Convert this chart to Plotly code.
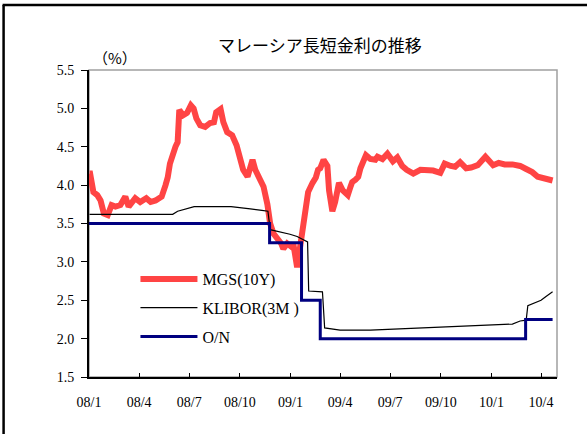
import plotly.graph_objects as go

# Malaysian 10Y government bond yield (MGS), 3M KLIBOR and overnight policy rate, %
mgs_dates = [
    "2008-01-02", "2008-01-03", "2008-01-09", "2008-01-16", "2008-01-22", "2008-01-28",
    "2008-02-04", "2008-02-11", "2008-02-18", "2008-02-27", "2008-03-07", "2008-03-13",
    "2008-03-25", "2008-04-03", "2008-04-14", "2008-04-22", "2008-05-01", "2008-05-12",
    "2008-05-19", "2008-05-23", "2008-05-27", "2008-06-02", "2008-06-06", "2008-06-10",
    "2008-06-13", "2008-06-20", "2008-06-27", "2008-07-04", "2008-07-09", "2008-07-14",
    "2008-07-21", "2008-07-30", "2008-08-08", "2008-08-15", "2008-08-19", "2008-08-27",
    "2008-09-01", "2008-09-08", "2008-09-17", "2008-09-25", "2008-09-30", "2008-10-07",
    "2008-10-15", "2008-10-24", "2008-10-29", "2008-11-07", "2008-11-13", "2008-11-20",
    "2008-11-25", "2008-12-01", "2008-12-08", "2008-12-15", "2008-12-19", "2008-12-26",
    "2009-01-02", "2009-01-06", "2009-01-13", "2009-01-19", "2009-01-26", "2009-01-28",
    "2009-02-02", "2009-02-10", "2009-02-16", "2009-02-20", "2009-02-24", "2009-03-02",
    "2009-03-09", "2009-03-12", "2009-03-18", "2009-03-23", "2009-03-30", "2009-04-06",
    "2009-04-15", "2009-04-20", "2009-04-23", "2009-04-29", "2009-05-04", "2009-05-08",
    "2009-05-13", "2009-05-18", "2009-05-26", "2009-06-04", "2009-06-08", "2009-06-17",
    "2009-06-26", "2009-07-06", "2009-07-14", "2009-07-23", "2009-07-31", "2009-08-12",
    "2009-08-25", "2009-09-07", "2009-09-17", "2009-09-30", "2009-10-08", "2009-10-19",
    "2009-10-27", "2009-11-05", "2009-11-16", "2009-11-25", "2009-12-07", "2009-12-21",
    "2009-12-30", "2010-01-04", "2010-01-14", "2010-01-25", "2010-02-08", "2010-02-22",
    "2010-03-05", "2010-03-16", "2010-03-26", "2010-04-05", "2010-04-15", "2010-04-22",
]
mgs_values = [
    4.15, 4.15, 3.91, 3.87, 3.80, 3.63,
    3.61, 3.74, 3.72, 3.74, 3.85, 3.72,
    3.83, 3.78, 3.83, 3.78, 3.80, 3.85,
    4.00, 4.10, 4.28, 4.45, 4.50, 4.56,
    4.98, 4.91, 4.94, 5.04, 5.00, 4.87,
    4.78, 4.76, 4.81, 4.82, 4.95, 4.99,
    4.82, 4.69, 4.65, 4.52, 4.35, 4.20,
    4.11, 4.33, 4.20, 4.09, 3.98, 3.75,
    3.50, 3.37, 3.31, 3.24, 3.17, 3.24,
    3.20, 3.24, 2.93, 3.24, 3.59, 3.75,
    3.91, 4.03, 4.10, 4.20, 4.22, 4.33,
    4.25, 3.93, 3.66, 3.78, 4.03, 3.93,
    3.87, 3.98, 4.04, 4.07, 4.11, 4.22,
    4.29, 4.39, 4.34, 4.33, 4.37, 4.34,
    4.41, 4.31, 4.36, 4.25, 4.20, 4.15,
    4.20, 4.19, 4.19, 4.16, 4.28, 4.25,
    4.24, 4.30, 4.22, 4.23, 4.26, 4.37,
    4.30, 4.26, 4.29, 4.27, 4.27, 4.25,
    4.21, 4.17, 4.11, 4.09, 4.07, 4.06,
]

klibor_dates = [
    "2008-01-02", "2008-06-01", "2008-06-10", "2008-06-20", "2008-07-01", "2008-07-10",
    "2008-09-15", "2008-10-01", "2008-10-20", "2008-11-10", "2008-11-21", "2008-11-25",
    "2008-12-15", "2008-12-31", "2009-01-13", "2009-01-20", "2009-02-01", "2009-02-03",
    "2009-02-28", "2009-03-04", "2009-04-01", "2009-05-26", "2009-08-12", "2009-11-05",
    "2010-02-08", "2010-02-22", "2010-03-05", "2010-03-08", "2010-03-20", "2010-04-01",
    "2010-04-10", "2010-04-22",
]
klibor_values = [
    3.62, 3.62, 3.66, 3.68, 3.70, 3.72,
    3.72, 3.71, 3.69, 3.67, 3.66, 3.42,
    3.39, 3.36, 3.33, 3.30, 3.26, 2.62,
    2.61, 2.14, 2.11, 2.11, 2.135, 2.16,
    2.19, 2.23, 2.24, 2.43, 2.46, 2.50,
    2.55, 2.61,
]

# overnight policy rate: value in force from each date onward
on_dates = ["2008-01-01", "2008-11-24", "2009-01-21", "2009-02-24", "2010-03-04", "2010-04-22"]
on_values = [3.50, 3.25, 2.50, 2.00, 2.25, 2.25]

tick_dates = ["2008-01-01", "2008-04-01", "2008-07-01", "2008-10-01", "2009-01-01",
              "2009-04-01", "2009-07-01", "2009-10-01", "2010-01-01", "2010-04-01"]
tick_labels = ["08/1", "08/4", "08/7", "08/10", "09/1", "09/4", "09/7", "09/10", "10/1", "10/4"]

serif = "Liberation Serif, Times New Roman, serif"
cjk = "Noto Sans CJK JP, sans-serif"

fig = go.Figure()
fig.add_trace(go.Scatter(x=mgs_dates, y=mgs_values, name="MGS(10Y)", mode="lines",
                         line=dict(color="#FF4444", width=6), legendgroup="a"))
fig.add_trace(go.Scatter(x=klibor_dates, y=klibor_values, name="KLIBOR(3M )", mode="lines",
                         line=dict(color="black", width=1.2), legendgroup="b"))
fig.add_trace(go.Scatter(x=on_dates, y=on_values, name="O/N", mode="lines",
                         line=dict(color="#000080", width=3, shape="hv"), legendgroup="c"))

W, H = 587, 434
L, R, T, B = 88.5, 557, 70, 377
pw, ph = R - L, B - T


def px_x(v):
    return (v - L) / pw


def px_y(v):
    return (B - v) / ph


fig.update_layout(
    width=W, height=H,
    margin=dict(l=L, r=W - R, t=T, b=H - B),
    paper_bgcolor="white", plot_bgcolor="white",
    showlegend=True,
    legend=dict(x=px_x(135), y=px_y(262), xanchor="left", yanchor="top",
                font=dict(family=serif, size=16, color="black"),
                bgcolor="rgba(0,0,0,0)", traceorder="grouped", tracegroupgap=5,
                itemwidth=57),
    xaxis=dict(type="date", range=["2008-01-01", "2010-04-30"],
               tickvals=tick_dates, ticktext=tick_labels,
               ticks="inside", ticklen=4, tickcolor="black", tickwidth=1,
               showline=True, linecolor="black", linewidth=2,
               showgrid=False, zeroline=False,
               tickfont=dict(family=serif, size=14, color="black"),
               ticklabelstandoff=11),
    yaxis=dict(range=[1.5, 5.5], dtick=0.5, tick0=1.5, tickformat=".1f",
               ticks="outside", ticklen=6, tickcolor="black", tickwidth=1,
               showline=True, linecolor="black", linewidth=2,
               showgrid=False, zeroline=False,
               tickfont=dict(family=serif, size=14, color="black"),
               ticklabelstandoff=4),
    shapes=[
        # grey plot-area border
        dict(type="rect", xref="paper", yref="paper", x0=0, x1=1, y0=0, y1=1,
             line=dict(color="#A0A0A0", width=1.5), layer="below"),
        # outer chart frame (left and top edges)
        dict(type="line", xref="paper", yref="paper",
             x0=px_x(3), x1=px_x(3), y0=px_y(5), y1=px_y(440),
             line=dict(color="black", width=2.5)),
        dict(type="line", xref="paper", yref="paper",
             x0=px_x(2), x1=px_x(600), y0=px_y(5), y1=px_y(5),
             line=dict(color="black", width=2.5)),
    ],
    annotations=[
        dict(text="マレーシア長短金利の推移", xref="paper", yref="paper",
             x=px_x(320), y=px_y(45), xanchor="center", yanchor="middle",
             showarrow=False, font=dict(family=cjk, size=17, color="black")),
        dict(text="（%）", xref="paper", yref="paper",
             x=px_x(91), y=px_y(58), xanchor="left", yanchor="middle",
             showarrow=False, font=dict(family=cjk, size=15, color="black")),
    ],
)

fig.write_html("out.html")
